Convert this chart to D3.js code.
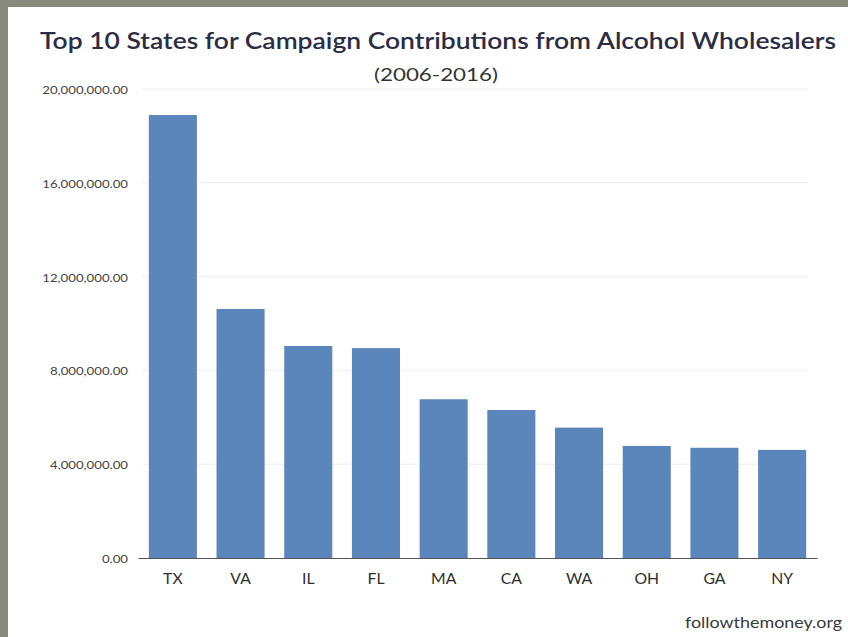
<!DOCTYPE html>
<html>
<head>
<meta charset="utf-8">
<script src="https://d3js.org/d3.v7.min.js"></script>
<style>
  body { margin: 0; background: #878a7c; }
  svg { display: block; }
</style>
</head>
<body>
<div id="chart"></div>
<script>
var states = ['TX', 'VA', 'IL', 'FL', 'MA', 'CA', 'WA', 'OH', 'GA', 'NY'];
var contributions = [18890000, 10620000, 9040000, 8950000, 6770000, 6310000, 5560000, 4780000, 4700000, 4610000];
var yTicks = [0, 4000000, 8000000, 12000000, 16000000, 20000000];
var titleText = 'Top 10 States for Campaign Contributions from Alcohol Wholesalers';
var subtitleText = '(2006-2016)';
var sourceText = 'followthemoney.org';

(function () {
    'use strict';
    var W = 848, H = 637;
    var margin = { top: 89, right: 31, bottom: 79, left: 138 };

    // the source image is a bit wider than tall, so text is stretched sideways
    var stretch = function (sel, k) {
        sel.each(function () {
            var len = this.getComputedTextLength();
            d3.select(this)
                .attr('textLength', len * k)
                .attr('lengthAdjust', 'spacingAndGlyphs');
        });
    };

    var svg = d3.select('#chart').append('svg')
        .attr('width', W)
        .attr('height', H);

    // white panel over the grey
    svg.append('rect')
        .attr('x', 8).attr('y', 7)
        .attr('width', W - 8).attr('height', H - 7)
        .attr('fill', '#ffffff');

    var x = d3.scaleBand()
        .domain(states)
        .range([margin.left, W - margin.right])
        .paddingInner(0.29)
        .paddingOuter(0.16);

    var y = d3.scaleLinear()
        .domain([0, 20000000])
        .range([H - margin.bottom, margin.top]);

    var fmt = d3.format(',.2f');

    // gridlines
    svg.append('g')
        .selectAll('line')
        .data(yTicks.slice(1))
        .join('line')
        .attr('x1', margin.left + 5)
        .attr('x2', W - 40)
        .attr('y1', function (d) { return y(d); })
        .attr('y2', function (d) { return y(d); })
        .attr('stroke', '#f2f2f2')
        .attr('stroke-width', 1.5);

    // y axis labels
    var yAxis = svg.append('g')
        .attr('transform', 'translate(' + margin.left + ',0)')
        .call(d3.axisLeft(y).tickValues(yTicks).tickFormat(fmt).tickSize(0).tickPadding(10));
    yAxis.select('.domain').remove();
    yAxis.selectAll('text')
        .attr('dy', '0.4em')
        .style('font-family', 'Lato, sans-serif')
        .style('font-size', '11px')
        .style('fill', '#444');
    stretch(yAxis.selectAll('text'), 1.2);

    // bars
    svg.append('g')
        .selectAll('rect')
        .data(states)
        .join('rect')
        .attr('x', function (d) { return x(d); })
        .attr('width', x.bandwidth())
        .attr('y', function (d, i) { return y(contributions[i]); })
        .attr('height', function (d, i) { return y(0) - y(contributions[i]); })
        .attr('fill', '#5b86bc');

    // x axis
    var xAxis = svg.append('g')
        .attr('transform', 'translate(0,' + y(0) + ')')
        .call(d3.axisBottom(x).tickSize(0).tickPadding(15));
    xAxis.select('.domain')
        .attr('stroke', '#555')
        .attr('stroke-width', 1.2);
    xAxis.selectAll('text')
        .style('font-family', 'Lato, sans-serif')
        .style('font-size', '15px')
        .style('fill', '#2e2e2e');
    stretch(xAxis.selectAll('text'), 1.05);

    // title + subtitle
    var title = svg.append('text')
        .attr('x', 438).attr('y', 49)
        .attr('text-anchor', 'middle')
        .style('font-family', 'Lato, sans-serif')
        .style('font-size', '23px')
        .style('font-weight', 600)
        .style('fill', '#2a2d45')
        .text(titleText);
    title.attr('textLength', 796).attr('lengthAdjust', 'spacingAndGlyphs');

    var sub = svg.append('text')
        .attr('x', 436).attr('y', 81)
        .attr('text-anchor', 'middle')
        .style('font-family', 'Lato, sans-serif')
        .style('font-size', '18px')
        .style('fill', '#333')
        .text(subtitleText);
    sub.attr('textLength', 124).attr('lengthAdjust', 'spacingAndGlyphs');

    // source note
    var src = svg.append('text')
        .attr('x', 842).attr('y', 628)
        .attr('text-anchor', 'end')
        .style('font-family', 'Lato, sans-serif')
        .style('font-size', '15px')
        .style('fill', '#3a3a3a')
        .text(sourceText);
    src.attr('textLength', 157).attr('lengthAdjust', 'spacingAndGlyphs');
})();
</script>
</body>
</html>
